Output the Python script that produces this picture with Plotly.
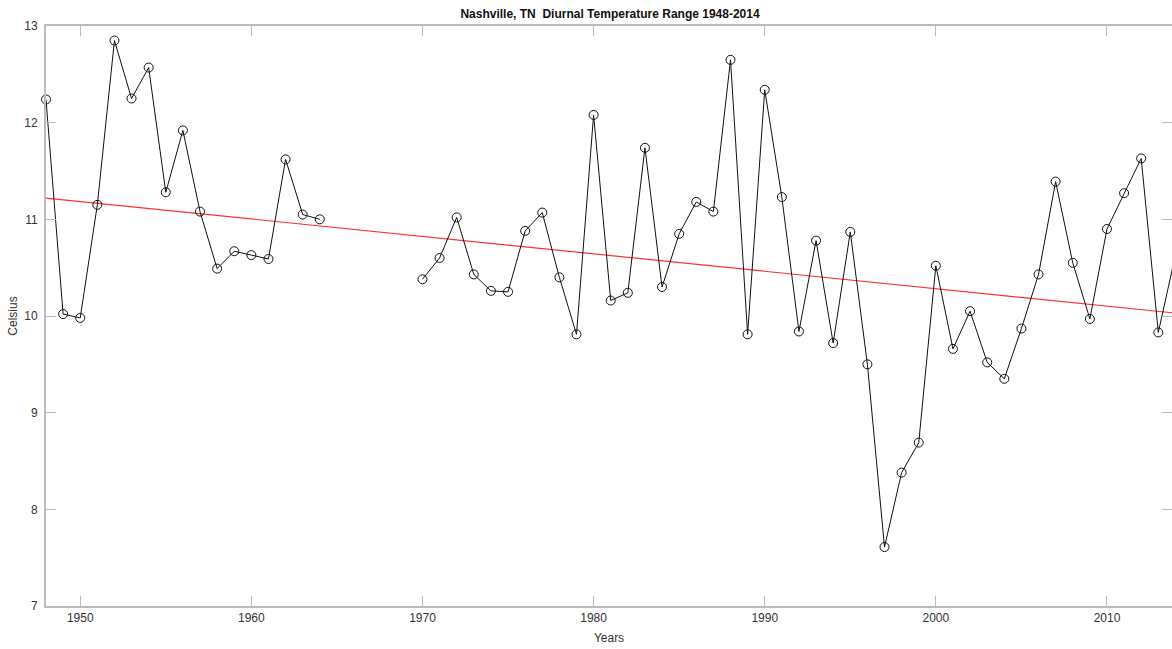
import plotly.graph_objects as go

# Annual mean diurnal temperature range, Nashville TN (deg C); None = no record
years = list(range(1948, 2015))
dtr = [
    12.24, 10.02, 9.98, 11.15, 12.85, 12.25, 12.57, 11.28, 11.92, 11.08,   # 1948-1957
    10.49, 10.67, 10.63, 10.59, 11.62, 11.05, 11.00,                       # 1958-1964
    None, None, None, None, None,                                          # 1965-1969
    10.38, 10.60, 11.02, 10.43, 10.26, 10.25, 10.88, 11.07, 10.40, 9.81,   # 1970-1979
    12.08, 10.16, 10.24, 11.74, 10.30, 10.85, 11.18, 11.08, 12.65, 9.81,   # 1980-1989
    12.34, 11.23, 9.84, 10.78, 9.72, 10.87, 9.50, 7.61, 8.38, 8.69,        # 1990-1999
    10.52, 9.66, 10.05, 9.52, 9.35, 9.87, 10.43, 11.39, 10.55, 9.97,       # 2000-2009
    10.90, 11.27, 11.63, 9.83, 10.63,                                      # 2010-2014
]

# Linear trend end points
trend_years = [1948, 2014]
trend_values = [11.22, 10.03]

x_ticks = [1950, 1960, 1970, 1980, 1990, 2000, 2010]
y_ticks = [7, 8, 9, 10, 11, 12, 13]

axis_grey = "#bcbcbc"
text_grey = "#333333"
font_family = "Liberation Sans, Arial, sans-serif"

fig = go.Figure()

fig.add_trace(go.Scatter(
    x=trend_years, y=trend_values, mode="lines",
    line=dict(color="#ff3030", width=1.2),
    hoverinfo="skip", showlegend=False,
))

fig.add_trace(go.Scatter(
    x=years, y=dtr, mode="lines+markers", connectgaps=False,
    cliponaxis=False,
    line=dict(color="#111111", width=1),
    marker=dict(symbol="circle-open", size=9, color="#111111",
                line=dict(width=1, color="#111111")),
    showlegend=False,
))

# invisible trace that carries the right-hand tick marks
fig.add_trace(go.Scatter(x=[1948], y=[7], yaxis="y2", mode="markers",
                         marker=dict(opacity=0), hoverinfo="skip",
                         showlegend=False))

fig.update_layout(
    width=1172, height=649,
    margin=dict(l=46, r=0, t=26, b=43),
    paper_bgcolor="white", plot_bgcolor="white",
    font=dict(family=font_family, size=12, color=text_grey),
    title=dict(
        text="<b>Nashville, TN  Diurnal Temperature Range 1948-2014</b>",
        x=0.5205, xanchor="center", y=1 - 14 / 649, yanchor="middle",
        yref="container",
        font=dict(family=font_family, size=12, color="#111111"),
    ),
    xaxis=dict(
        range=[1948, 2013.8], tickvals=x_ticks, ticktext=[str(v) for v in x_ticks],
        ticks="inside", ticklen=10, tickwidth=1, tickcolor=axis_grey,
        showline=True, linecolor=axis_grey, linewidth=2, mirror="ticks",
        showgrid=False, zeroline=False,
        title=dict(text="Years", standoff=9, font=dict(size=12, color=text_grey)),
        tickfont=dict(size=12, color=text_grey),
    ),
    yaxis=dict(
        range=[7, 13], tickvals=y_ticks,
        ticks="inside", ticklen=10, tickwidth=1, tickcolor=axis_grey,
        showline=True, linecolor=axis_grey, linewidth=2, mirror=False,
        showgrid=False, zeroline=False, ticklabelstandoff=4,
        title=dict(text="Celsius", standoff=4, font=dict(size=12, color=text_grey)),
        tickfont=dict(size=12, color=text_grey),
    ),
    yaxis2=dict(
        range=[7, 13], tickvals=y_ticks, overlaying="y", side="right",
        ticks="inside", ticklen=10, tickwidth=1, tickcolor=axis_grey,
        showline=False, showgrid=False, zeroline=False, showticklabels=False,
    ),
)

fig.write_html("out.html")
